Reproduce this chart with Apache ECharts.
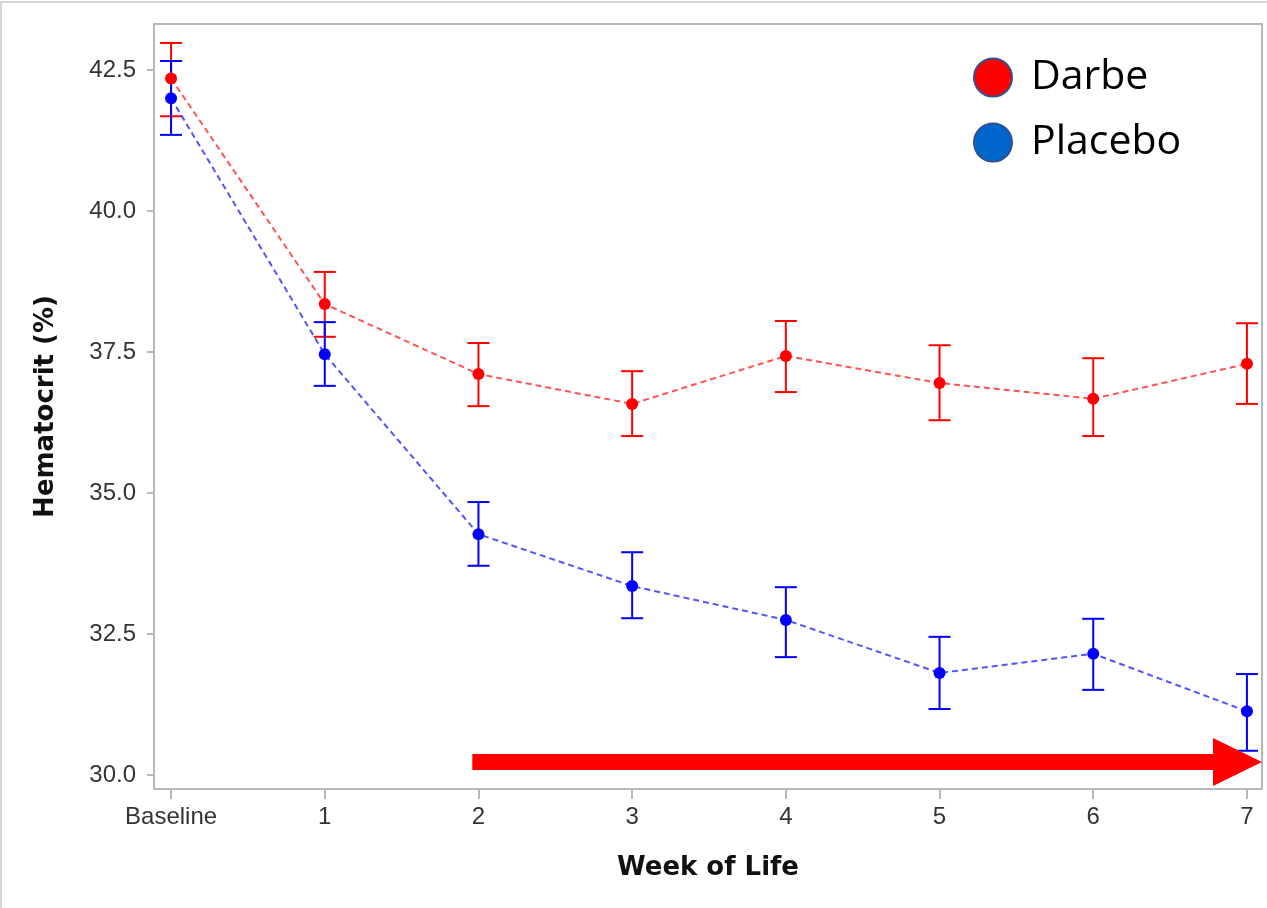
<!DOCTYPE html>
<html>
<head>
<meta charset="utf-8">
<script src="https://cdn.jsdelivr.net/npm/echarts@6/dist/echarts.min.js"></script>
<style>
  html, body { margin: 0; padding: 0; background: #fff; }
  #chart { width: 1267px; height: 908px; }
</style>
</head>
<body>
<div id="chart"></div>
<script>
// ---- Data ----
const weekLabels = ['Baseline', '1', '2', '3', '4', '5', '6', '7'];
const weekIndex = [0, 1, 2, 3, 4, 5, 6, 7];
const yTickValues = [30, 32.5, 35, 37.5, 40, 42.5];

const darbeMean  = [42.35, 38.35, 37.11, 36.58, 37.43, 36.95, 36.67, 37.29];
const darbeUpper = [42.98, 38.92, 37.66, 37.16, 38.05, 37.62, 37.39, 38.01];
const darbeLower = [41.68, 37.77, 36.54, 36.01, 36.79, 36.29, 36.01, 36.58];

const placeboMean  = [42.00, 37.46, 34.27, 33.35, 32.75, 31.81, 32.15, 31.13];
const placeboUpper = [42.66, 38.03, 34.84, 33.95, 33.33, 32.45, 32.77, 31.79];
const placeboLower = [41.35, 36.90, 33.71, 32.78, 32.09, 31.17, 31.51, 30.43];

// annotation arrow (in data units): from week ~2 to right edge
const arrowFromWeek = 1.96;
const arrowToWeek = 7.098;
const arrowLevel = 30.23;

// ---- Build series data ----
const pts = (means) => weekIndex.map((w, i) => [w, means[i]]);
const bars = (lo, hi) => weekIndex.map((w, i) => [w, lo[i], hi[i]]);

function errorBarRenderer(color) {
  return function (params, api) {
    const x = api.value(0);
    const pLo = api.coord([x, api.value(1)]);
    const pHi = api.coord([x, api.value(2)]);
    const hw = 11;
    const style = { stroke: color, lineWidth: 2 };
    return {
      type: 'group',
      children: [
        { type: 'line', shape: { x1: pLo[0], y1: pLo[1], x2: pHi[0], y2: pHi[1] }, style: style },
        { type: 'line', shape: { x1: pHi[0] - hw, y1: pHi[1], x2: pHi[0] + hw, y2: pHi[1] }, style: style },
        { type: 'line', shape: { x1: pLo[0] - hw, y1: pLo[1], x2: pLo[0] + hw, y2: pLo[1] }, style: style }
      ]
    };
  };
}

function arrowRenderer(params, api) {
  const p0 = api.coord([api.value(0), api.value(2)]);
  const p1 = api.coord([api.value(1), api.value(2)]);
  const y = p0[1];
  const body = 8, headHalf = 24, headLen = 49;
  const hx = p1[0] - headLen;
  return {
    type: 'polygon',
    shape: { points: [
      [p0[0], y - body], [hx, y - body], [hx, y - headHalf], [p1[0], y],
      [hx, y + headHalf], [hx, y + body], [p0[0], y + body]
    ] },
    style: { fill: '#ff0000' }
  };
}

const axisGray = '#b3b8bc';
const chart = echarts.init(document.getElementById('chart'));
chart.setOption({
  animation: false,
  backgroundColor: '#ffffff',
  graphic: [{
    type: 'rect', z: -10,
    shape: { x: 1, y: 2, width: 1300, height: 1000 },
    style: { fill: 'none', stroke: '#d6d6d6', lineWidth: 2 },
    silent: true
  }],
  grid: {
    left: 154, right: 5, top: 24, bottom: 119,
    show: true, borderColor: axisGray, borderWidth: 2, backgroundColor: 'transparent'
  },
  legend: {
    orient: 'vertical',
    left: 968, top: 42,
    itemWidth: 38, itemHeight: 38, itemGap: 4,
    icon: 'circle',
    selectedMode: false,
    data: [
      { name: 'Darbe', itemStyle: { color: '#ff0000', borderColor: '#2f528f', borderWidth: 2 } },
      { name: 'Placebo', itemStyle: { color: '#0066cc', borderColor: '#2f528f', borderWidth: 2 } }
    ],
    textStyle: { fontFamily: 'Open Sans', fontSize: 41, lineHeight: 41, color: '#000', padding: [20, 0, 0, 14] }
  },
  xAxis: {
    type: 'value',
    min: -0.111, max: 7.098,
    splitLine: { show: false },
    axisLine: { show: true, onZero: false, lineStyle: { color: axisGray, width: 2 } },
    axisTick: { show: true, customValues: weekIndex, length: 10, lineStyle: { color: axisGray, width: 2 } },
    axisLabel: {
      customValues: weekIndex,
      formatter: (v) => weekLabels[Math.round(v)],
      fontFamily: 'Liberation Sans', fontSize: 24, color: '#333', margin: 16
    },
    name: 'Week of Life',
    nameLocation: 'middle',
    nameGap: 66,
    nameTextStyle: { fontFamily: 'DejaVu Sans', fontWeight: 'bold', fontSize: 26, color: '#111' }
  },
  yAxis: {
    type: 'value',
    min: 29.752, max: 43.316,
    splitLine: { show: false },
    axisLine: { show: true, onZero: false, lineStyle: { color: axisGray, width: 2 } },
    axisTick: { show: true, customValues: yTickValues, length: 7, lineStyle: { color: axisGray, width: 2 } },
    axisLabel: {
      customValues: yTickValues,
      formatter: (v) => v.toFixed(1),
      fontFamily: 'Liberation Sans', fontSize: 24, color: '#333', margin: 18
    },
    name: 'Hematocrit (%)',
    nameLocation: 'middle',
    nameGap: 95,
    nameTextStyle: { fontFamily: 'DejaVu Sans', fontWeight: 'bold', fontSize: 26, color: '#111' }
  },
  series: [
    {
      name: 'Darbe bars', type: 'custom', z: 3,
      renderItem: errorBarRenderer('#ff0000'),
      encode: { x: 0, y: [1, 2] },
      data: bars(darbeLower, darbeUpper)
    },
    {
      name: 'Placebo bars', type: 'custom', z: 3,
      renderItem: errorBarRenderer('#0000ff'),
      encode: { x: 0, y: [1, 2] },
      data: bars(placeboLower, placeboUpper)
    },
    {
      name: 'Darbe', type: 'line', z: 4,
      data: pts(darbeMean),
      symbol: 'circle', symbolSize: 12,
      itemStyle: { color: '#ff0000' },
      lineStyle: { color: 'rgba(255,40,40,0.8)', width: 2, type: [6, 4] }
    },
    {
      name: 'Placebo', type: 'line', z: 4,
      data: pts(placeboMean),
      symbol: 'circle', symbolSize: 12,
      itemStyle: { color: '#0000ff' },
      lineStyle: { color: 'rgba(40,40,255,0.8)', width: 2, type: [6, 4] }
    },
    {
      name: 'arrow', type: 'custom', z: 5, clip: false, silent: true,
      renderItem: arrowRenderer,
      encode: { x: [0, 1], y: 2 },
      data: [[arrowFromWeek, arrowToWeek, arrowLevel]]
    }
  ]
});
</script>
</body>
</html>
